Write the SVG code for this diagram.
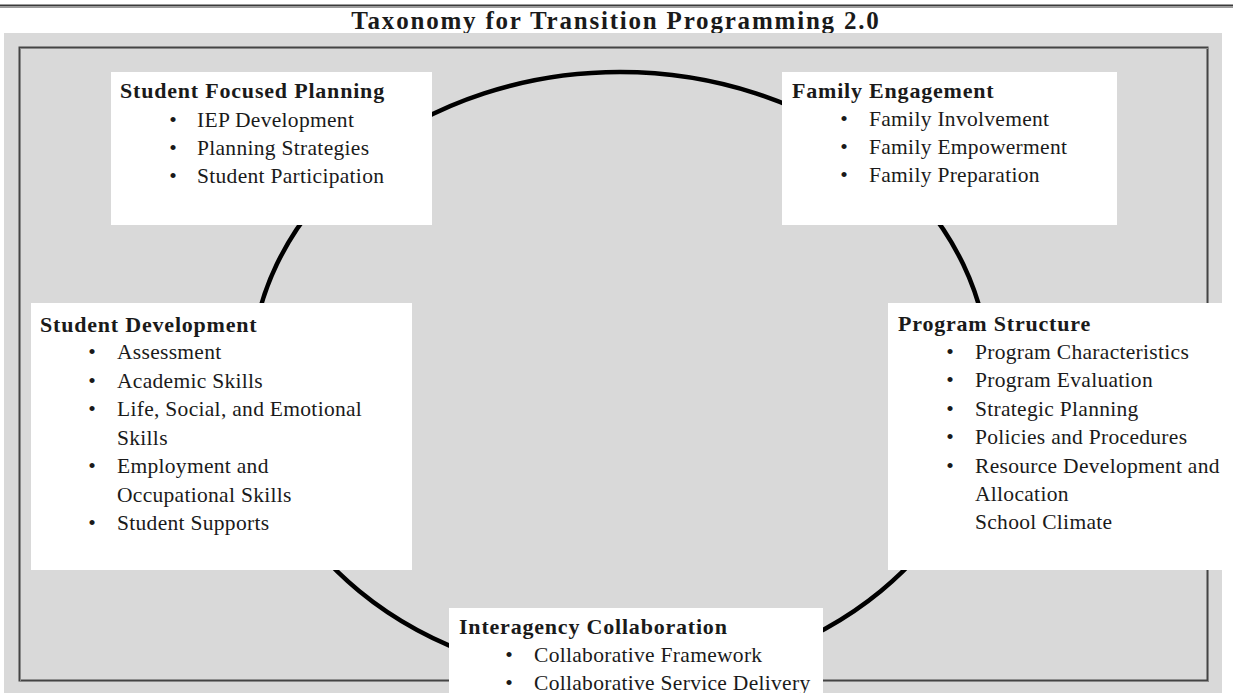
<svg xmlns="http://www.w3.org/2000/svg" width="1233" height="693" viewBox="0 0 1233 693">
<style>
text{font-family:"Liberation Serif","Times New Roman",serif;fill:#1a1a1a}
.title{font-size:25px;font-weight:bold;letter-spacing:1.8px}
.h{font-size:22px;font-weight:bold;letter-spacing:0.8px}
.i{font-size:21.5px;letter-spacing:0.3px}
.b{font-size:21.5px;text-anchor:middle}
.box{fill:#ffffff}
</style>
<rect x="0" y="0" width="1233" height="693" fill="#ffffff"/>
<line x1="0" y1="5.5" x2="1233" y2="5.5" stroke="#3a3a3a" stroke-width="2"/>
<line x1="0" y1="7.5" x2="1233" y2="7.5" stroke="#9a9a9a" stroke-width="1"/>
<text class="title" x="616" y="29" text-anchor="middle">Taxonomy for Transition Programming 2.0</text>
<rect x="4" y="33" width="1218" height="660" fill="#d9d9d9"/>
<rect x="19.5" y="47.5" width="1188" height="633" fill="none" stroke="#444" stroke-width="2"/>
<rect x="20.5" y="48.5" width="1188" height="633" fill="none" stroke="#8a8a8a" stroke-width="1"/>
<g id="connectors">
<ellipse cx="620" cy="376" rx="369" ry="304" fill="none" stroke="#000" stroke-width="4.5"/>
</g>
<g id="student-focused-planning">
<rect class="box" x="111" y="72" width="321" height="153"/>
<text class="h" x="120" y="98">Student Focused Planning</text>
<text class="b" x="173" y="127">•</text><text class="i" x="197" y="127">IEP Development</text>
<text class="b" x="173" y="155">•</text><text class="i" x="197" y="155">Planning Strategies</text>
<text class="b" x="173" y="183">•</text><text class="i" x="197" y="183">Student Participation</text>
</g>
<g id="family-engagement">
<rect class="box" x="782" y="72" width="335" height="153"/>
<text class="h" x="792" y="98">Family Engagement</text>
<text class="b" x="844" y="126">•</text><text class="i" x="869" y="126">Family Involvement</text>
<text class="b" x="844" y="154">•</text><text class="i" x="869" y="154">Family Empowerment</text>
<text class="b" x="844" y="182">•</text><text class="i" x="869" y="182">Family Preparation</text>
</g>
<g id="student-development">
<rect class="box" x="31" y="303" width="381" height="267"/>
<text class="h" x="40" y="332">Student Development</text>
<text class="b" x="92" y="359">•</text><text class="i" x="117" y="359">Assessment</text>
<text class="b" x="92" y="388">•</text><text class="i" x="117" y="388">Academic Skills</text>
<text class="b" x="92" y="416">•</text><text class="i" x="117" y="416">Life, Social, and Emotional</text>
<text class="i" x="117" y="445">Skills</text>
<text class="b" x="92" y="473">•</text><text class="i" x="117" y="473">Employment and</text>
<text class="i" x="117" y="502">Occupational Skills</text>
<text class="b" x="92" y="530">•</text><text class="i" x="117" y="530">Student Supports</text>
</g>
<g id="program-structure">
<rect class="box" x="888" y="303" width="345" height="267"/>
<text class="h" x="898" y="331">Program Structure</text>
<text class="b" x="950" y="359">•</text><text class="i" x="975" y="359">Program Characteristics</text>
<text class="b" x="950" y="387">•</text><text class="i" x="975" y="387">Program Evaluation</text>
<text class="b" x="950" y="416">•</text><text class="i" x="975" y="416">Strategic Planning</text>
<text class="b" x="950" y="444">•</text><text class="i" x="975" y="444">Policies and Procedures</text>
<text class="b" x="950" y="473">•</text><text class="i" x="975" y="473">Resource Development and</text>
<text class="i" x="975" y="501">Allocation</text>
<text class="i" x="975" y="529">School Climate</text>
</g>
<g id="interagency-collaboration">
<rect class="box" x="449" y="608" width="374" height="85"/>
<text class="h" x="459" y="634">Interagency Collaboration</text>
<text class="b" x="509" y="662">•</text><text class="i" x="534" y="662">Collaborative Framework</text>
<text class="b" x="509" y="690">•</text><text class="i" x="534" y="690">Collaborative Service Delivery</text>
</g>
</svg>
